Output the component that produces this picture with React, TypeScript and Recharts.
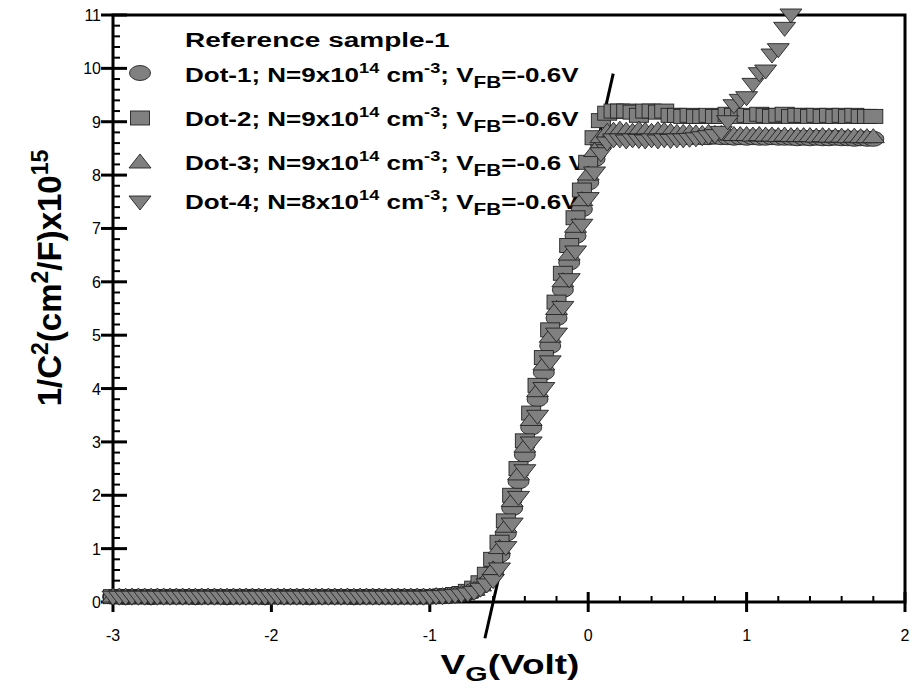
import React from 'react';
import * as Recharts from 'recharts';
import { ScatterChart, Scatter, XAxis, YAxis, ReferenceLine } from 'recharts';

const FONT = '"Liberation Sans", Arial, Helvetica, sans-serif';
const FILL = '#808080';
const EDGE = '#222222';

// Gate voltage (V)
const VOLTAGES = [
  -3.00, -2.96, -2.92, -2.88, -2.84, -2.80, -2.76, -2.72, -2.68, -2.64,
  -2.60, -2.56, -2.52, -2.48, -2.44, -2.40, -2.36, -2.32, -2.28, -2.24,
  -2.20, -2.16, -2.12, -2.08, -2.04, -2.00, -1.96, -1.92, -1.88, -1.84,
  -1.80, -1.76, -1.72, -1.68, -1.64, -1.60, -1.56, -1.52, -1.48, -1.44,
  -1.40, -1.36, -1.32, -1.28, -1.24, -1.20, -1.16, -1.12, -1.08, -1.04,
  -1.00, -0.96, -0.92, -0.88, -0.84, -0.80, -0.76, -0.72, -0.68, -0.64,
  -0.60, -0.56, -0.52, -0.48, -0.44, -0.40, -0.36, -0.32, -0.28, -0.24,
  -0.20, -0.16, -0.12, -0.08, -0.04, 0.00, 0.04, 0.08, 0.12, 0.16,
  0.20, 0.24, 0.28, 0.32, 0.36, 0.40, 0.44, 0.48, 0.52, 0.56,
  0.60, 0.64, 0.68, 0.72, 0.76, 0.80, 0.84, 0.88, 0.92, 0.96,
  1.00, 1.04, 1.08, 1.12, 1.16, 1.20, 1.24, 1.28, 1.32, 1.36,
  1.40, 1.44, 1.48, 1.52, 1.56, 1.60, 1.64, 1.68, 1.72, 1.76,
  1.80,
];

// 1/C^2 (x10^15 cm^4/F^2)
const DOT1 = [
  0.10, 0.10, 0.09, 0.10, 0.10, 0.10, 0.09, 0.10, 0.10, 0.10,
  0.10, 0.10, 0.10, 0.09, 0.10, 0.10, 0.10, 0.10, 0.09, 0.10,
  0.10, 0.10, 0.10, 0.10, 0.09, 0.10, 0.10, 0.10, 0.10, 0.10,
  0.10, 0.09, 0.10, 0.10, 0.10, 0.10, 0.10, 0.10, 0.09, 0.10,
  0.10, 0.10, 0.10, 0.10, 0.10, 0.10, 0.10, 0.10, 0.10, 0.10,
  0.10, 0.11, 0.11, 0.12, 0.13, 0.15, 0.18, 0.22, 0.30, 0.42,
  0.58, 0.88, 1.28, 1.76, 2.26, 2.76, 3.27, 3.80, 4.30, 4.80,
  5.32, 5.85, 6.36, 6.86, 7.36, 7.86, 8.30, 8.58, 8.68, 8.72,
  8.72, 8.72, 8.71, 8.72, 8.72, 8.71, 8.72, 8.72, 8.71, 8.72,
  8.72, 8.71, 8.72, 8.71, 8.71, 8.72, 8.71, 8.71, 8.70, 8.71,
  8.70, 8.71, 8.70, 8.70, 8.71, 8.70, 8.70, 8.70, 8.69, 8.70,
  8.69, 8.70, 8.69, 8.69, 8.70, 8.69, 8.69, 8.68, 8.69, 8.68,
  8.68,
];

const DOT2 = [
  0.10, 0.10, 0.10, 0.10, 0.10, 0.10, 0.10, 0.10, 0.10, 0.10,
  0.10, 0.10, 0.10, 0.10, 0.10, 0.10, 0.10, 0.10, 0.10, 0.10,
  0.10, 0.10, 0.10, 0.10, 0.10, 0.10, 0.10, 0.10, 0.10, 0.10,
  0.10, 0.10, 0.10, 0.10, 0.10, 0.10, 0.10, 0.10, 0.10, 0.10,
  0.10, 0.10, 0.10, 0.10, 0.10, 0.10, 0.10, 0.10, 0.10, 0.10,
  0.10, 0.10, 0.11, 0.12, 0.14, 0.16, 0.20, 0.26, 0.36, 0.52,
  0.80, 1.12, 1.52, 2.00, 2.50, 3.02, 3.54, 4.06, 4.58, 5.10,
  5.62, 6.16, 6.68, 7.20, 7.72, 8.24, 8.70, 9.02, 9.16, 9.20,
  9.20, 9.20, 9.18, 9.12, 9.20, 9.20, 9.18, 9.20, 9.12, 9.12,
  9.10, 9.12, 9.10, 9.10, 9.12, 9.10, 9.10, 9.14, 9.12, 9.10,
  9.12, 9.10, 9.14, 9.12, 9.10, 9.12, 9.14, 9.10, 9.12, 9.12,
  9.10, 9.12, 9.10, 9.12, 9.10, 9.12, 9.10, 9.12, 9.10, 9.10,
  9.10,
];

const DOT3 = [
  0.11, 0.11, 0.11, 0.11, 0.11, 0.11, 0.11, 0.11, 0.11, 0.11,
  0.11, 0.11, 0.11, 0.11, 0.11, 0.11, 0.11, 0.11, 0.11, 0.11,
  0.11, 0.11, 0.11, 0.11, 0.11, 0.11, 0.11, 0.11, 0.11, 0.11,
  0.11, 0.11, 0.11, 0.11, 0.11, 0.11, 0.11, 0.11, 0.11, 0.11,
  0.11, 0.11, 0.11, 0.11, 0.11, 0.11, 0.11, 0.11, 0.11, 0.11,
  0.11, 0.12, 0.12, 0.13, 0.14, 0.16, 0.19, 0.24, 0.32, 0.45,
  0.62, 1.02, 1.42, 1.90, 2.40, 2.92, 3.42, 3.96, 4.46, 4.98,
  5.50, 6.02, 6.52, 7.04, 7.54, 8.02, 8.46, 8.72, 8.82, 8.84,
  8.86, 8.84, 8.82, 8.86, 8.84, 8.82, 8.85, 8.84, 8.82, 8.80,
  8.80, 8.80, 8.79, 8.78, 8.80, 8.78, 8.78, 8.77, 8.76, 8.76,
  8.76, 8.75, 8.76, 8.75, 8.75, 8.74, 8.75, 8.74, 8.74, 8.74,
  8.74, 8.73, 8.74, 8.73, 8.73, 8.73, 8.72, 8.73, 8.72, 8.72,
  8.72,
];

const DOT4 = [
  0.09, 0.09, 0.09, 0.09, 0.09, 0.09, 0.09, 0.09, 0.09, 0.09,
  0.09, 0.09, 0.09, 0.09, 0.09, 0.09, 0.09, 0.09, 0.09, 0.09,
  0.09, 0.09, 0.09, 0.09, 0.09, 0.09, 0.09, 0.09, 0.09, 0.09,
  0.09, 0.09, 0.09, 0.09, 0.09, 0.09, 0.09, 0.09, 0.09, 0.09,
  0.09, 0.09, 0.09, 0.09, 0.09, 0.09, 0.09, 0.09, 0.09, 0.09,
  0.09, 0.10, 0.10, 0.11, 0.12, 0.13, 0.15, 0.18, 0.24, 0.32,
  0.40, 0.62, 1.02, 1.46, 1.96, 2.46, 2.98, 3.48, 4.00, 4.50,
  5.02, 5.52, 6.04, 6.56, 7.06, 7.56, 8.04, 8.40, 8.60, 8.66,
  8.66, 8.64, 8.66, 8.65, 8.64, 8.66, 8.64, 8.66, 8.65, 8.66,
  8.66, 8.67, 8.68, 8.70, 8.72, 8.74, 8.80, 9.00, 9.30, 9.40,
  9.45, 9.70, 9.90, 9.95, 10.25, 10.35, 10.75, 11.00, null, null,
  null, null, null, null, null, null, null, null, null, null,
  null,
];

// Linear fit used to extract V_FB
const FIT_X = [-0.652, 0.158];
const FIT_Y = [-0.68, 9.9];

const X_DOMAIN = [-3, 2];
const Y_DOMAIN = [0, 11];
const X_TICKS = [
  -3, -2.8, -2.6, -2.4, -2.2, -2, -1.8, -1.6, -1.4, -1.2, -1, -0.8, -0.6, -0.4, -0.2,
  0, 0.2, 0.4, 0.6, 0.8, 1, 1.2, 1.4, 1.6, 1.8, 2,
];
const Y_TICKS = [
  0, 0.2, 0.4, 0.6, 0.8, 1, 1.2, 1.4, 1.6, 1.8, 2, 2.2, 2.4, 2.6, 2.8, 3, 3.2, 3.4, 3.6, 3.8,
  4, 4.2, 4.4, 4.6, 4.8, 5, 5.2, 5.4, 5.6, 5.8, 6, 6.2, 6.4, 6.6, 6.8, 7, 7.2, 7.4, 7.6, 7.8,
  8, 8.2, 8.4, 8.6, 8.8, 9, 9.2, 9.4, 9.6, 9.8, 10, 10.2, 10.4, 10.6, 10.8, 11,
];

const LEGEND_TITLE = 'Reference sample-1';
const LEGEND_DOTS = ['Dot-1', 'Dot-2', 'Dot-3', 'Dot-4'];
const LEGEND_N = ['9', '9', '9', '8'];
const LEGEND_VFB = ['-0.6V', '-0.6V', '-0.6 V', '-0.6V'];

const MARGIN = { top: 15, right: 7, bottom: 51, left: 53 };
const CHART_W = 912;
const CHART_H = 693;
const Y_AXIS_W = 60;
const X_AXIS_H = 40;

const usePlotAreaSafe: () => any = (Recharts as any).usePlotArea || (() => null);

const makeSeries = (ys: (number | null)[]) =>
  ys.map((y, i) => ({ x: VOLTAGES[i], y })).filter((d) => d.y !== null);

const isMajor = (v: number) => Math.abs(v - Math.round(v)) < 1e-6;

const CircleMark = (p: any) => (
  <ellipse cx={p.cx} cy={p.cy} rx={10.5} ry={7.5} fill={FILL} stroke={EDGE} strokeWidth={0.9} />
);
const SquareMark = (p: any) => (
  <rect x={p.cx - 9.5} y={p.cy - 7} width={19} height={14} fill={FILL} stroke={EDGE} strokeWidth={0.9} />
);
const TriUpMark = (p: any) => (
  <polygon points={`${p.cx - 11},${p.cy + 6} ${p.cx + 11},${p.cy + 6} ${p.cx},${p.cy - 8}`} fill={FILL} stroke={EDGE} strokeWidth={0.9} />
);
const TriDownMark = (p: any) => (
  <polygon points={`${p.cx - 11},${p.cy - 6} ${p.cx + 11},${p.cy - 6} ${p.cx},${p.cy + 8}`} fill={FILL} stroke={EDGE} strokeWidth={0.9} />
);
const MARKS = [CircleMark, SquareMark, TriUpMark, TriDownMark];

const XTick = (props: any) => {
  const { x, y, payload } = props;
  const v = payload.value;
  if (!isMajor(v)) return <g />;
  return (
    <text x={x} y={y + 39} textAnchor="middle" fontFamily={FONT} fontSize={16} fill="#000">
      {String(Math.round(v))}
    </text>
  );
};

const YTick = (props: any) => {
  const { x, y, payload } = props;
  const v = payload.value;
  if (!isMajor(v)) return <g />;
  return (
    <text x={x - 12} y={y + 6} textAnchor="end" fontFamily={FONT} fontSize={16} fill="#000">
      {String(Math.round(v))}
    </text>
  );
};

// Axis frame and tick marks, placed with the chart's plot area and axis domains
const AxesFrame = () => {
  const area = usePlotAreaSafe();
  const px = area && Number.isFinite(area.x) ? area.x : MARGIN.left + Y_AXIS_W;
  const py = area && Number.isFinite(area.y) ? area.y : MARGIN.top;
  const pw = area && Number.isFinite(area.width) ? area.width : CHART_W - MARGIN.left - MARGIN.right - Y_AXIS_W;
  const ph = area && Number.isFinite(area.height) ? area.height : CHART_H - MARGIN.top - MARGIN.bottom - X_AXIS_H;
  const sx = (v: number) => px + ((v - X_DOMAIN[0]) / (X_DOMAIN[1] - X_DOMAIN[0])) * pw;
  const sy = (v: number) => py + ph - ((v - Y_DOMAIN[0]) / (Y_DOMAIN[1] - Y_DOMAIN[0])) * ph;
  const base = py + ph;
  return (
    <g>
      {X_TICKS.map((v, i) =>
        isMajor(v) ? (
          <line key={`x${i}`} x1={sx(v)} x2={sx(v)} y1={base - 10} y2={base + 10} stroke="#000" strokeWidth={3} />
        ) : (
          <line key={`x${i}`} x1={sx(v)} x2={sx(v)} y1={base - 6} y2={base} stroke="#000" strokeWidth={2} />
        )
      )}
      {Y_TICKS.map((v, i) =>
        isMajor(v) ? (
          <line key={`y${i}`} x1={px - 12} x2={px + 14} y1={sy(v)} y2={sy(v)} stroke="#000" strokeWidth={3} />
        ) : (
          <line key={`y${i}`} x1={px} x2={px + 7} y1={sy(v)} y2={sy(v)} stroke="#000" strokeWidth={2} />
        )
      )}
      <rect x={px} y={py} width={pw} height={ph} fill="none" stroke="#000" strokeWidth={3} />
    </g>
  );
};

const ROW_Y = [82, 126, 170, 209];
const MARK_Y = [73, 118, 162, 202];

const Annotations = () => (
  <g fontFamily={FONT} fontWeight="bold" fill="#000">
    <g transform="translate(185,47) scale(1.4,1)">
      <text x={0} y={0} fontSize={20}>{LEGEND_TITLE}</text>
    </g>
    {LEGEND_DOTS.map((d, i) => {
      const Mark = MARKS[i];
      return (
        <g key={d}>
          <Mark cx={140} cy={MARK_Y[i]} />
          <g transform={`translate(185,${ROW_Y[i]}) scale(1.3,1)`}>
            <text x={0} y={0} fontSize={20} style={{ whiteSpace: 'pre' }}>
              <tspan>{`${d}; N=${LEGEND_N[i]}x10`}</tspan>
              <tspan fontSize={14} dy={-9}>14</tspan>
              <tspan dy={9}> cm</tspan>
              <tspan fontSize={14} dy={-9}>-3</tspan>
              <tspan dy={9}>; V</tspan>
              <tspan fontSize={16} dy={6}>FB</tspan>
              <tspan dy={-6}>{`=${LEGEND_VFB[i]}`}</tspan>
            </text>
          </g>
        </g>
      );
    })}
    <g transform="translate(510,674) scale(1.37,1)">
      <text x={0} y={0} fontSize={27} textAnchor="middle" style={{ whiteSpace: 'pre' }}>
        <tspan>V</tspan>
        <tspan fontSize={21} dy={7}>G</tspan>
        <tspan dy={-7}>(Volt)</tspan>
      </text>
    </g>
    <g transform="translate(61,278) rotate(-90)">
      <text x={0} y={0} fontSize={33} textAnchor="middle" style={{ whiteSpace: 'pre' }}>
        <tspan>1/C</tspan>
        <tspan fontSize={23} dy={-13}>2</tspan>
        <tspan dy={13}>(cm</tspan>
        <tspan fontSize={23} dy={-13}>2</tspan>
        <tspan dy={13}>/F)x10</tspan>
        <tspan fontSize={23} dy={-13}>15</tspan>
      </text>
    </g>
  </g>
);

export default function App() {
  return (
    <div style={{ position: 'absolute', left: 0, top: 0, width: CHART_W, height: CHART_H, background: '#fff' }}>
      <ScatterChart width={CHART_W} height={CHART_H} margin={MARGIN}>
        <Annotations />
        <AxesFrame />
        <XAxis
          type="number"
          dataKey="x"
          domain={X_DOMAIN}
          ticks={X_TICKS}
          interval={0}
          tick={<XTick />}
          tickLine={false}
          tickSize={0}
          tickMargin={0}
          height={X_AXIS_H}
          axisLine={false}
        />
        <YAxis
          type="number"
          dataKey="y"
          domain={Y_DOMAIN}
          ticks={Y_TICKS}
          interval={0}
          tick={<YTick />}
          tickLine={false}
          tickSize={0}
          tickMargin={0}
          width={Y_AXIS_W}
          axisLine={false}
        />
        <Scatter name="Dot-1" data={makeSeries(DOT1)} shape={CircleMark} isAnimationActive={false} />
        <Scatter name="Dot-2" data={makeSeries(DOT2)} shape={SquareMark} isAnimationActive={false} />
        <Scatter name="Dot-3" data={makeSeries(DOT3)} shape={TriUpMark} isAnimationActive={false} />
        <Scatter name="Dot-4" data={makeSeries(DOT4)} shape={TriDownMark} isAnimationActive={false} />
        <ReferenceLine
          segment={[{ x: FIT_X[0], y: FIT_Y[0] }, { x: FIT_X[1], y: FIT_Y[1] }]}
          ifOverflow="visible"
          stroke="#000"
          strokeWidth={3}
        />
      </ScatterChart>
    </div>
  );
}
